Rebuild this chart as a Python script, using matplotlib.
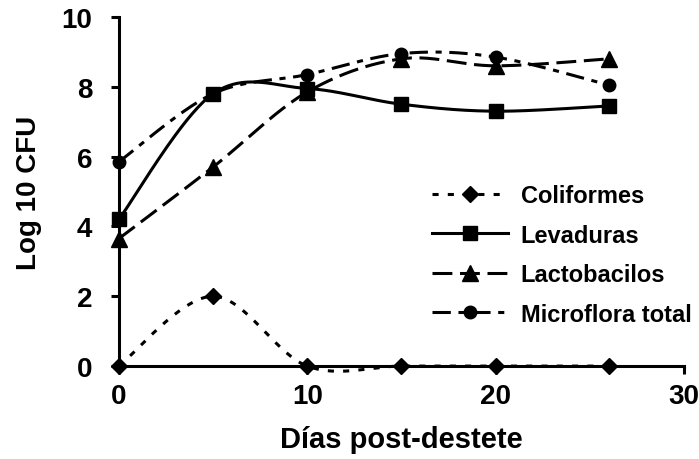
import numpy as np
import matplotlib.pyplot as plt
from matplotlib.lines import Line2D

plt.rcParams['font.family'] = ['Liberation Sans', 'DejaVu Sans']
plt.rcParams['font.weight'] = 'bold'

dias = [0, 5, 10, 15, 20, 26]
coliformes = [0, 2, 0, 0, 0, 0]
levaduras = [4.2, 7.8, 7.95, 7.5, 7.3, 7.45]
lactobacilos = [3.65, 5.7, 7.85, 8.8, 8.6, 8.8]
microflora = [5.85, 7.8, 8.35, 8.95, 8.85, 8.05]

nombres = ['Coliformes', 'Levaduras', 'Lactobacilos', 'Microflora total']


def smooth(x, y, n=40):
    # linea suavizada estilo Excel (Bezier con control Catmull-Rom)
    p = np.column_stack([x, y]).astype(float)
    p = np.vstack([p[0], p, p[-1]])
    t = np.linspace(0, 1, n)[:, None]
    out = []
    for i in range(1, len(p) - 2):
        p0, p1, p2, p3 = p[i - 1], p[i], p[i + 1], p[i + 2]
        c1 = p1 + (p2 - p0) / 6
        c2 = p2 - (p3 - p1) / 6
        seg = (1 - t) ** 3 * p1 + 3 * (1 - t) ** 2 * t * c1 + 3 * (1 - t) * t ** 2 * c2 + t ** 3 * p2
        out.append(seg if i == 1 else seg[1:])
    out = np.vstack(out)
    return out[:, 0], out[:, 1]


fig = plt.figure(figsize=(6.99, 4.60), dpi=100)
ax = fig.add_axes([0.170, 0.202, 0.8085, 0.759])

LW = 2.2
estilos = [
    ((0, (2, 3)), 'D', 8),
    ('-', 's', 9.5),
    ((0, (6.5, 2.5)), '^', 11),
    ((0, (6, 2.5, 2, 2.5)), 'o', 9),
]
series = [coliformes, levaduras, lactobacilos, microflora]

handles = []
for vals, (ls, mk, ms), nombre in zip(series, estilos, nombres):
    sx, sy = smooth(dias, vals)
    ax.plot(sx, sy, color='black', lw=LW, ls=ls, clip_on=False, zorder=3)
    ax.plot(dias, vals, color='black', ls='none', marker=mk, ms=ms, clip_on=False, zorder=4)
    handles.append(Line2D([], [], color='black', lw=LW, ls=ls, marker=mk, ms=ms))

ax.set_xlim(0, 30)
ax.set_ylim(0, 10)
ax.set_xticks([0, 10, 20, 30])
ax.set_yticks([0, 2, 4, 6, 8, 10])
for s in ['top', 'right']:
    ax.spines[s].set_visible(False)
for s in ['left', 'bottom']:
    ax.spines[s].set_linewidth(LW)
ax.tick_params(direction='out', length=6, width=LW, labelsize=20)
ax.tick_params(axis='y', pad=13)
ax.tick_params(axis='x', pad=6)

ax.set_xlabel('Días post-destete', fontsize=21, fontweight='bold')
ax.set_ylabel('Log 10 CFU', fontsize=20, fontweight='bold')
ax.xaxis.set_label_coords(0.5, -0.17)
ax.yaxis.set_label_coords(-0.136, 0.5)

fig.legend(handles, nombres, loc='upper left', bbox_to_anchor=(432 / 699, 1 - 185 / 460),
           bbox_transform=fig.transFigure, frameon=False, fontsize=17,
           handlelength=3.2, handletextpad=0.55, labelspacing=0.7,
           borderpad=0, borderaxespad=0)

fig.savefig('out.png', dpi=100)
